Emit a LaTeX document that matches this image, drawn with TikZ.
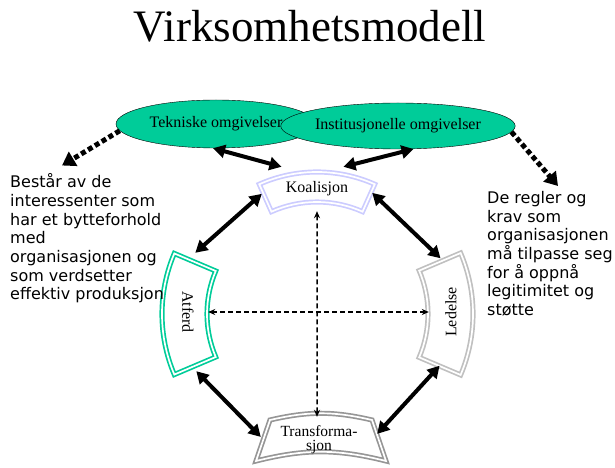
\documentclass[tikz,border=0pt]{standalone}
\usepackage{fontspec}
\setmainfont{Liberation Serif}
\newfontfamily\verd{DejaVu Sans}
\usepackage{graphicx}
\usetikzlibrary{arrows.meta,shapes.geometric}

\definecolor{gronn}{RGB}{0,204,153}
\definecolor{lilla}{RGB}{204,204,255}
\definecolor{lysgraa}{RGB}{192,192,192}
\definecolor{morkgraa}{RGB}{150,150,150}

\tikzset{
  omg/.style={ellipse, draw=black, fill=gronn, inner sep=0pt, font=\fontsize{16bp}{18bp}\selectfont},
  felt/.style={inner sep=0pt, font=\fontsize{16bp}{18bp}\selectfont},
  ramme/.style={line width=1.7bp, double=white, double distance=1.7bp},
  dbl/.style={line width=4bp, {Triangle[length=12bp,width=13bp]}-{Triangle[length=12bp,width=13bp]}},
  kryss/.style={line width=1.5bp, dash pattern=on 5bp off 3bp, {Stealth[length=7bp,width=6bp]}-{Stealth[length=7bp,width=6bp]}},
  prikk/.style={line width=5bp, dash pattern=on 5bp off 3bp, -{Triangle[length=13bp,width=16bp]}},
  tekst/.style={anchor=north west, align=left, inner sep=0pt, font=\verd\fontsize{16bp}{18.7bp}\selectfont}
}

\newcommand{\sektor}[5]{\draw[ramme, draw=#1] ([shift={(#2:#4)}]mid) arc[start angle=#2, end angle=#3, radius=#4] -- ([shift={(#3:#5)}]mid) arc[start angle=#3, end angle=#2, radius=#5] -- cycle;}

\begin{document}
\begin{tikzpicture}[x=1bp,y=1bp]
\useasboundingbox (0,0) rectangle (615,-468);
\coordinate (mid) at (317,-314);

\node[font=\fontsize{45bp}{50bp}\selectfont, inner sep=0pt, anchor=base] (tittel) at (310,-42) {Virksomhetsmodell};

\sektor{lilla}{66}{114}{112}{142}
\sektor{gronn}{157}{203}{110}{155}
\sektor{lysgraa}{-23}{23}{111}{156}
\draw[ramme, draw=morkgraa] (270,-420) to[bend left=13] (372,-420) -- (386,-461) to[bend right=14] (256,-461) -- cycle;

\node[felt, minimum width=110bp, minimum height=44bp] (koal) at (317,-189) {Koalisjon};
\node[felt, minimum width=40bp, minimum height=118bp] (atferd) at (188,-312) {\rotatebox{-90}{Atferd}};
\node[felt, minimum width=44bp, minimum height=107bp] (ledelse) at (451,-312) {\rotatebox{90}{Ledelse}};
\node[felt, minimum width=116bp, minimum height=46bp, align=center, font=\fontsize{15.5bp}{14bp}\selectfont] (transf) at (319,-440) {Transforma-\\sjon};

\node[omg, minimum width=200bp, minimum height=48bp] (tekn) at (216,-124) {Tekniske omgivelser};
\node[omg, minimum width=210bp, minimum height=46bp] (inst) at (398,-126) {Institusjonelle omgivelser};

\node[tekst] (bestaar) at (10,-173.5) {Består av de\\interessenter som\\har et bytteforhold\\med\\organisasjonen og\\som verdsetter\\effektiv produksjon};
\node[tekst] (regler) at (487,-191) {De regler og\\krav som\\organisasjonen\\må tilpasse seg\\for å oppnå\\legitimitet og\\støtte};

\path [prikk] (tekn.184) edge ([xshift=52bp,yshift=8bp]bestaar.north west);
\path [prikk] (inst.357) edge ([xshift=71bp,yshift=5bp]regler.north west);

\path [dbl] (tekn.263) edge (koal.148);
\path [dbl] (inst.304) edge (koal.40);
\path [dbl] (koal.185) edge (atferd.83);
\path [dbl] (koal.356) edge (ledelse.101);
\path [dbl] (atferd.278) edge (transf.177);
\path [dbl] (ledelse.258) edge (transf.6);

\path [kryss] (koal.south) edge ([xshift=-2bp]transf.north);
\path [kryss] (atferd.east) edge (ledelse.west);
\end{tikzpicture}
\end{document}
